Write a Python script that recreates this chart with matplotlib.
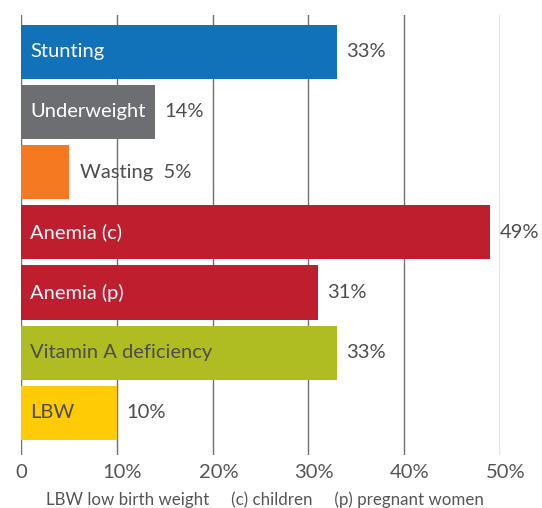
import matplotlib
matplotlib.use("Agg")
import matplotlib.pyplot as plt
import matplotlib.transforms as mtransforms

categories = ["Stunting", "Underweight", "Wasting", "Anemia (c)", "Anemia (p)",
              "Vitamin A deficiency", "LBW"]
values = [33, 14, 5, 49, 31, 33, 10]
colors = ["#1172BA", "#6D6E71", "#F47920", "#BE1E2D", "#BE1E2D", "#AFBD22", "#FFCB05"]
label_colors = ["white", "white", None, "white", "white", "#4D4D4F", "#4D4D4F"]
xticks = [0, 10, 20, 30, 40, 50]
xtick_labels = ["0", "10%", "20%", "30%", "40%", "50%"]
footnote = "LBW low birth weight     (c) children     (p) pregnant women"

plt.rcParams['font.family'] = ['Lato', 'DejaVu Sans']
FW = "normal"

fig = plt.figure(figsize=(5.42, 5.08), dpi=100)
ax = fig.add_axes([21/542, 53/508, (500-21)/542, 440/508])

ypos = list(range(len(categories)))
ax.barh(ypos, values, height=0.9, color=colors, zorder=2)

txt_col = "#4D4D4F"
for y, v, c, lc in zip(ypos, values, categories, label_colors):
    if lc is not None:
        ax.text(0.95, y, c, color=lc, fontsize=14.5, fontweight=FW, va="center", ha="left", zorder=3)
        ax.text(v + 0.95, y, f"{v}%", color=txt_col, fontsize=14.5, fontweight=FW, va="center", ha="left", zorder=3)
    else:
        ax.text(v + 1.15, y, f"{c}  {v}%", color=txt_col, fontsize=14.5, fontweight=FW, va="center", ha="left", zorder=3)

ax.set_xlim(0, 50)
ax.set_ylim(6.70, -0.61)
ax.set_xticks(xticks)
ax.set_xticklabels([])
ax.set_yticks([])
for s in ax.spines.values():
    s.set_visible(False)
ax.tick_params(axis="x", length=0)
ax.grid(axis="x", color="#707070", linewidth=1, zorder=0)
ax.set_axisbelow(True)

# tick labels: digits centred on the gridline, "%" trailing
trans = mtransforms.blended_transform_factory(ax.transData, fig.transFigure)
for xv, lab in zip(xticks, xtick_labels):
    shift = 0.6 if lab.endswith("%") else 0.0
    ax.text(xv + shift, 1 - 473/508, lab, transform=trans, ha="center", va="center",
            fontsize=14.5, fontweight=FW, color="#555555")

fig.text(265/542, 1 - 500/508, footnote, ha="center", va="center", fontsize=12.2,
         fontweight=FW, color="#555555")

fig.savefig("out.png", dpi=100)
